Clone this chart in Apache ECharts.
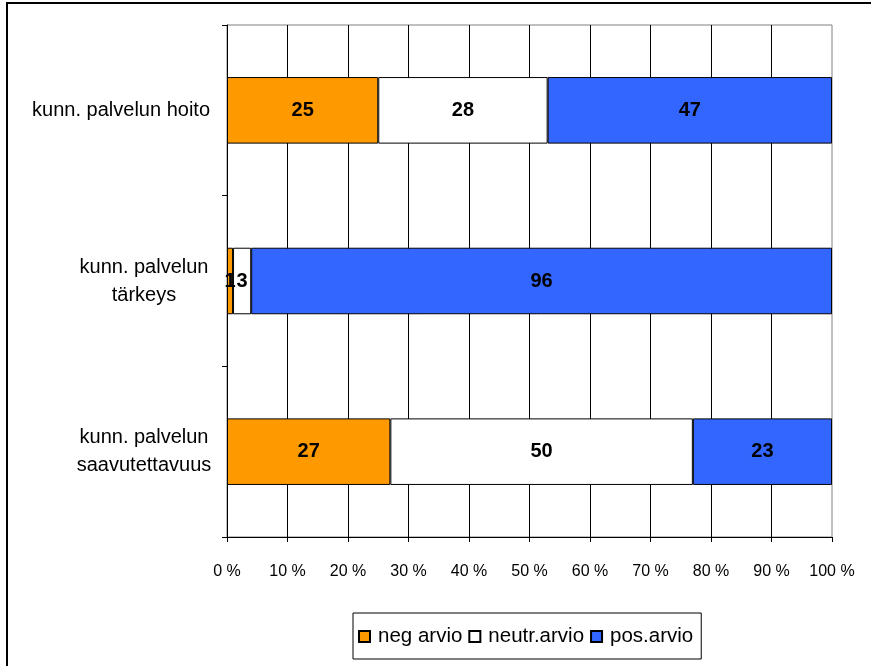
<!DOCTYPE html>
<html>
<head>
<meta charset="utf-8">
<script src="https://cdn.jsdelivr.net/npm/echarts@6/dist/echarts.min.js"></script>
<style>
  html, body { margin: 0; padding: 0; background: #fff; overflow: hidden; }
  #wrap { position: relative; width: 871px; height: 666px; overflow: hidden; }
  #chart { position: absolute; left: 0; top: 0; width: 871px; height: 666px; }
  #frame { position: absolute; left: 6px; top: 2px; width: 1000px; height: 1000px;
           border: 2px solid #000; pointer-events: none; }
</style>
</head>
<body>
<div id="wrap">
  <div id="chart"></div>
  <div id="frame"></div>
</div>
<script>
// Survey categories, top to bottom
const categories = [
  'kunn. palvelun hoito',
  'kunn. palvelun\ntärkeys',
  'kunn. palvelun\nsaavutettavuus'
];
// Share of answers per category (%)
const negArvio = [25, 1, 27];
const neutrArvio = [28, 3, 50];
const posArvio = [47, 96, 23];
const seriesNames = ['neg arvio', 'neutr.arvio', 'pos.arvio'];
const xTicks = [0, 10, 20, 30, 40, 50, 60, 70, 80, 90, 100];

const FONT = "'Liberation Sans', Arial, sans-serif";
const colors = ['#FF9900', '#FFFFFF', '#3366FF'];

function barSeries(name, data, color) {
  return {
    name: name,
    type: 'bar',
    stack: 'total',
    barWidth: '39%',
    data: data,
    itemStyle: { color: color, borderColor: '#000', borderWidth: 1 },
    label: {
      show: true,
      position: 'inside',
      color: '#000',
      fontFamily: FONT,
      fontWeight: 'bold',
      fontSize: 20
    },
    emphasis: { disabled: true }
  };
}

const chart = echarts.init(document.getElementById('chart'), null, { renderer: 'canvas' });
chart.setOption({
  animation: false,
  backgroundColor: '#fff',
  grid: {
    left: 227, right: 39, top: 25, bottom: 129,
    show: true, borderColor: '#808080', borderWidth: 1, backgroundColor: 'transparent'
  },
  legend: {
    data: seriesNames,
    left: 353, top: 613,
    padding: [13, 8, 12, 5],
    borderColor: '#000', borderWidth: 1,
    icon: 'rect', itemWidth: 11, itemHeight: 11, itemGap: 6,
    textStyle: { fontFamily: FONT, fontSize: 20.5, color: '#000', padding: [0, 0, 0, 3] }
  },
  xAxis: {
    type: 'value',
    min: xTicks[0], max: xTicks[xTicks.length - 1], interval: 10,
    axisLine: { show: true, lineStyle: { color: '#000', width: 1 } },
    axisTick: { show: true, length: 5, lineStyle: { color: '#000' } },
    axisLabel: {
      margin: 27, color: '#000', fontFamily: FONT, fontSize: 16,
      formatter: v => v + ' %'
    },
    splitLine: { show: true, showMaxLine: false, lineStyle: { color: '#000', width: 1 } }
  },
  yAxis: {
    type: 'category',
    inverse: true,
    data: categories,
    axisLine: { show: true, lineStyle: { color: '#000', width: 1 } },
    axisTick: { show: true, length: 5, alignWithLabel: false, lineStyle: { color: '#000' } },
    axisLabel: {
      margin: 17, color: '#000', fontFamily: FONT, fontSize: 20, lineHeight: 28,
      align: 'right',
      formatter: function (v) {
        const lines = v.split('\n');
        if (lines.length === 1) return '{s|' + v + '}';
        return lines.map(l => '{c|' + l + '}').join('\n');
      },
      rich: {
        s: { fontFamily: FONT, fontSize: 20, color: '#000' },
        c: { fontFamily: FONT, fontSize: 20, color: '#000', width: 132, align: 'center', lineHeight: 28 }
      }
    }
  },
  series: [
    barSeries(seriesNames[0], negArvio, colors[0]),
    barSeries(seriesNames[1], neutrArvio, colors[1]),
    barSeries(seriesNames[2], posArvio, colors[2])
  ]
});
</script>
</body>
</html>
